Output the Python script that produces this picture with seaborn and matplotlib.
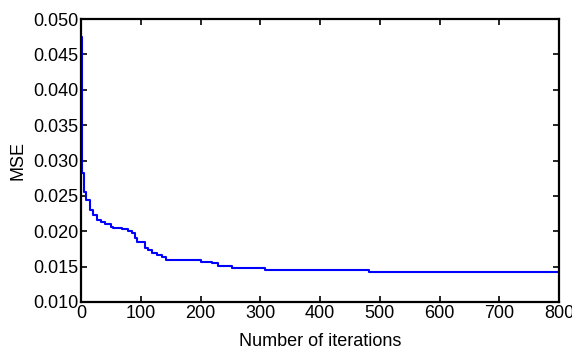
import numpy as np
import matplotlib
matplotlib.use("Agg")
import matplotlib.pyplot as plt
import seaborn as sns

# MSE convergence curve (step breakpoints)
iterations = [0, 2, 5, 9, 15, 20, 26, 34, 40, 51, 54, 68, 79, 85, 90, 93,
              107, 112, 118, 127, 135, 143, 200, 219, 230, 253, 308, 482, 800]
mse = [0.0474, 0.0283, 0.0255, 0.0244, 0.0230, 0.0223, 0.0216, 0.0213,
       0.0210, 0.0206, 0.0204, 0.0203, 0.0200, 0.0197, 0.0190, 0.0185,
       0.0176, 0.0174, 0.0169, 0.0166, 0.0164, 0.0160, 0.0157, 0.01547,
       0.0151, 0.01485, 0.01452, 0.01428, 0.01428]

x_ticks = [0, 100, 200, 300, 400, 500, 600, 700, 800]
y_ticks = [0.010, 0.015, 0.020, 0.025, 0.030, 0.035, 0.040, 0.045, 0.050]

sns.set_style("ticks")
plt.rcParams["font.family"] = ["Liberation Sans", "DejaVu Sans"]

fig = plt.figure(figsize=(5.72, 3.54), dpi=100)
ax = fig.add_axes([0.1416, 0.1469, 0.8357, 0.7994])

sns.lineplot(x=iterations, y=mse, drawstyle="steps-post",
             color="#0000ff", linewidth=1.5, ax=ax)

ax.set_xlim(0, 800)
ax.set_ylim(0.010, 0.050)
ax.set_xticks(x_ticks)
ax.set_yticks(y_ticks)
ax.set_yticklabels([f"{v:.3f}" for v in y_ticks])

ax.tick_params(direction="in", length=4, width=1.2, top=True, right=True,
               labelsize=13, colors="black", pad=2)
for sp in ax.spines.values():
    sp.set_visible(True)
    sp.set_linewidth(1.6)
    sp.set_color("black")

ax.set_xlabel("Number of iterations", fontsize=13, labelpad=8, color="black")
ax.set_ylabel("MSE", fontsize=13, labelpad=5, color="black")

fig.savefig("out.png", dpi=100)
